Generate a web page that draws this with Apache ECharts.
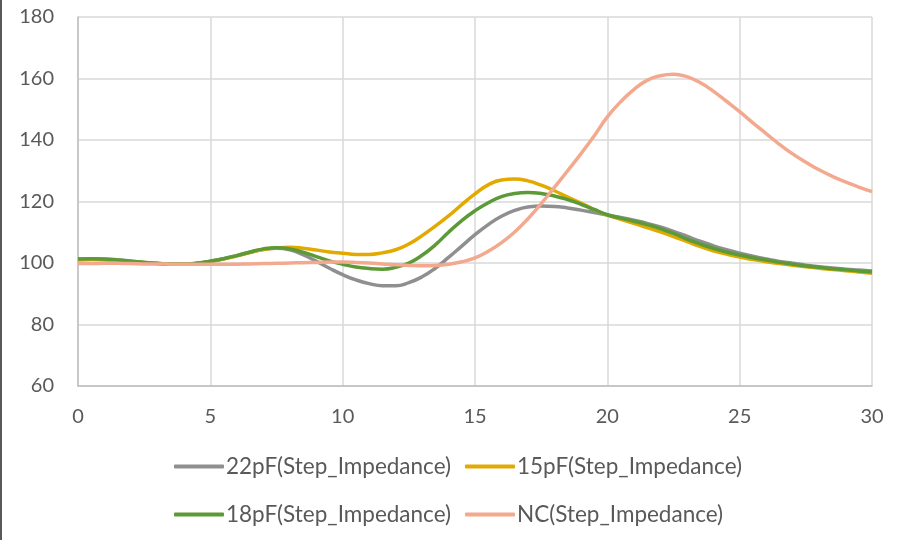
<!DOCTYPE html>
<html>
<head>
<meta charset="utf-8">
<script src="https://cdn.jsdelivr.net/npm/echarts@6/dist/echarts.min.js"></script>
<style>
html,body{margin:0;padding:0;background:#fff;}
#chart{width:898px;height:540px;}
#edge{position:absolute;left:0;top:0;width:2px;height:540px;background:#595959;}
</style>
</head>
<body>
<div id="chart"></div>
<div id="edge"></div>
<script>
const xValues = [0,0.5,1,1.5,2,2.5,3,3.5,4,4.5,5,5.5,6,6.5,7,7.5,8,8.5,9,9.5,10,10.5,11,11.5,12,12.5,13,13.5,14,14.5,15,15.5,16,16.5,17,17.5,18,18.5,19,19.5,20,20.5,21,21.5,22,22.5,23,23.5,24,24.5,25,25.5,26,26.5,27,27.5,28,28.5,29,29.5,30];
const s22pF = [101.2,101.3,101.2,101.0,100.6,100.2,99.9,99.7,99.7,100.0,100.6,101.4,102.4,103.5,104.4,104.8,104.3,102.7,100.6,98.3,96.2,94.5,93.3,92.6,92.6,93.6,95.5,98.3,101.8,105.5,109.2,112.5,115.2,117.1,118.2,118.5,118.4,117.9,117.2,116.4,115.6,114.8,113.9,112.9,111.7,110.3,108.7,107.1,105.6,104.3,103.2,102.2,101.3,100.5,99.9,99.3,98.8,98.4,98.0,97.7,97.4];
const s15pF = [101.0,101.1,101.0,100.8,100.5,100.2,99.9,99.6,99.6,99.9,100.5,101.3,102.3,103.4,104.4,104.9,105.1,104.8,104.2,103.6,103.2,102.8,102.8,103.3,104.3,106.2,108.9,112.0,115.3,119.0,122.5,125.4,127.0,127.3,126.7,125.3,123.5,121.4,119.5,117.4,115.6,114.2,112.9,111.5,110.1,108.6,107.0,105.4,104.0,102.9,101.9,101.1,100.4,99.8,99.3,98.8,98.3,97.9,97.5,97.1,96.7];
const s18pF = [101.3,101.4,101.3,101.0,100.6,100.2,99.8,99.6,99.6,99.9,100.6,101.4,102.4,103.6,104.6,105.0,104.6,103.5,102.1,100.7,99.6,98.7,98.2,98.0,98.6,100.0,102.5,105.9,110.0,113.8,117.0,119.6,121.6,122.6,122.9,122.6,121.8,120.6,119.1,117.4,115.7,114.6,113.6,112.5,111.2,109.6,107.8,106.2,104.8,103.6,102.6,101.7,101.0,100.2,99.6,99.0,98.6,98.1,97.8,97.4,97.1];
const sNC   = [99.8,99.8,99.9,99.9,99.8,99.7,99.7,99.6,99.6,99.6,99.6,99.6,99.6,99.7,99.8,99.9,100.0,100.1,100.2,100.3,100.3,100.2,100.0,99.7,99.4,99.2,99.1,99.2,99.6,100.4,101.7,103.8,106.6,110.1,114.4,119.3,124.6,130.0,135.5,141.3,147.5,152.4,156.4,159.4,160.9,161.4,160.6,158.7,155.9,152.6,149.2,145.6,142.1,138.6,135.5,132.8,130.3,128.2,126.4,124.7,123.2];
const seriesNames = ['22pF(Step_Impedance)','15pF(Step_Impedance)','18pF(Step_Impedance)','NC(Step_Impedance)'];
const seriesColors = ['#8f8f8f','#e2aa00','#5b9a36','#f3a98e'];
const yTicks = {min:60, max:180, interval:20};
const xTicks = {min:0, max:30, interval:5};

const allData = [s22pF, s15pF, s18pF, sNC];
const FONT = 'Lato, "Open Sans", sans-serif';
const legendPos = [[174,455],[465,455],[174,503],[465,503]];
const chart = echarts.init(document.getElementById('chart'), null, {renderer:'canvas'});
chart.setOption({
  animation:false,
  textStyle:{fontFamily:FONT},
  grid:{left:78, right:26, top:17, bottom:154, containLabel:false},
  xAxis:{
    type:'value', min:xTicks.min, max:xTicks.max, interval:xTicks.interval,
    axisLine:{show:true, lineStyle:{color:'#bfbfbf', width:1.5}},
    axisTick:{show:false},
    axisLabel:{color:'#595959', fontSize:20, margin:21, fontFamily:FONT},
    splitLine:{show:true, lineStyle:{color:'#d9d9d9', width:1.5}}
  },
  yAxis:{
    type:'value', min:yTicks.min, max:yTicks.max, interval:yTicks.interval,
    axisLine:{show:true, lineStyle:{color:'#bfbfbf', width:1.5}},
    axisTick:{show:false},
    axisLabel:{color:'#595959', fontSize:20, margin:24, fontFamily:FONT},
    splitLine:{show:true, lineStyle:{color:'#d9d9d9', width:1.5}}
  },
  legend: seriesNames.map((n,i)=>({
    data:[n], left:legendPos[i][0], top:legendPos[i][1], padding:0,
    itemWidth:50, itemHeight:4, icon:'roundRect',
    textStyle:{color:'#595959', fontSize:22.5, fontFamily:FONT, padding:[0,0,0,-3]}
  })),
  series: seriesNames.map((n,i)=>({
    name:n, type:'line', smooth:0.5, symbol:'none',
    lineStyle:{color:seriesColors[i], width:3.5},
    itemStyle:{color:seriesColors[i]},
    data: xValues.map((x,j)=>[x, allData[i][j]])
  }))
});
</script>
</body>
</html>
